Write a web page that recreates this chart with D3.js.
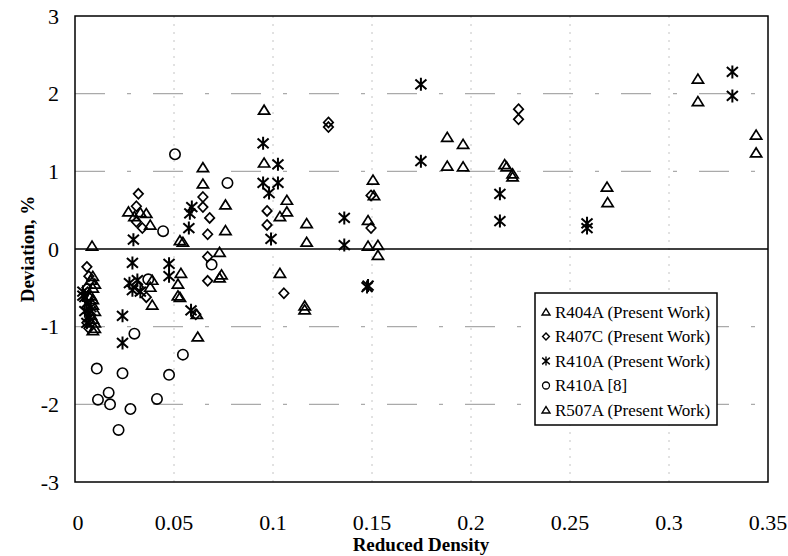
<!DOCTYPE html>
<html>
<head>
<meta charset="utf-8">
<script src="https://cdn.jsdelivr.net/npm/d3@7"></script>
<style>
  body { margin: 0; background: #fff; }
  svg text { font-family: "Liberation Serif", "Times New Roman", serif; fill: #000; }
</style>
</head>
<body>
<svg id="chart" width="788" height="556"></svg>
<script>
// x = reduced density, y = deviation in %
var r404a = [[0.0086,0.04],[0.008,-0.4],[0.009,-0.5],[0.008,-0.6],[0.009,-0.72],[0.008,-0.85],[0.01,-0.95],[0.009,-1.05],
  [0.027,0.48],[0.030,0.42],[0.033,0.47],[0.039,-0.40],[0.038,-0.49],[0.039,-0.72],[0.0545,0.09],[0.0535,-0.31],[0.052,-0.45],[0.052,-0.6],
  [0.0646,1.05],[0.0646,0.84],[0.076,0.57],[0.076,0.24],[0.073,-0.04],[0.073,-0.37],
  [0.0955,1.79],[0.0955,1.11],[0.107,0.63],[0.107,0.48],[0.117,0.33],[0.117,0.09],[0.1035,-0.31],[0.116,-0.73],
  [0.1505,0.89],[0.151,0.69],[0.148,0.37],[0.148,0.04],[0.188,1.44],[0.196,1.35],[0.217,1.09],[0.221,0.97],
  [0.3146,2.19],[0.344,1.47],[0.2687,0.8]];
var r407c = [[0.006,-0.23],[0.007,-0.35],[0.006,-0.5],[0.007,-0.62],[0.006,-0.75],[0.008,-0.85],[0.006,-0.95],[0.007,-1.02],
  [0.032,0.71],[0.031,0.55],[0.031,0.35],[0.034,0.27],[0.032,-0.49],[0.036,-0.62],[0.061,-0.84],
  [0.0646,0.67],[0.0646,0.54],[0.068,0.40],[0.067,0.19],[0.067,-0.1],[0.067,-0.41],[0.097,0.49],[0.097,0.31],
  [0.128,1.63],[0.128,1.57],[0.1055,-0.57],[0.1495,0.69],[0.1495,0.27],[0.224,1.80],[0.224,1.67]];
var r410a = [[0.004,-0.55],[0.005,-0.62],[0.006,-0.7],[0.005,-0.8],[0.007,-0.88],[0.006,-0.95],[0.008,-0.75],[0.004,-0.6],
  [0.0295,0.12],[0.029,-0.18],[0.0275,-0.44],[0.029,-0.53],[0.0315,-0.4],[0.033,-0.55],[0.024,-0.86],[0.024,-1.21],
  [0.0475,-0.19],[0.0475,-0.35],[0.0586,-0.79],[0.059,0.54],[0.058,0.46],[0.0575,0.27],
  [0.095,1.36],[0.1025,1.09],[0.095,0.85],[0.1025,0.85],[0.098,0.72],[0.099,0.13],[0.136,0.40],[0.136,0.05],
  [0.1475,-0.49],[0.148,-0.47],[0.1747,2.12],[0.1747,1.13],[0.2146,0.71],[0.2146,0.36],
  [0.332,2.28],[0.332,1.97],[0.2586,0.33],[0.2586,0.27]];
var r410aRef8 = [[0.011,-1.54],[0.0116,-1.94],[0.017,-1.85],[0.0177,-2.0],[0.022,-2.33],[0.024,-1.6],[0.028,-2.06],[0.030,-1.09],
  [0.037,-0.39],[0.0414,-1.93],[0.0445,0.23],[0.0475,-1.62],[0.0505,1.22],[0.0545,-1.36],[0.069,-0.2],[0.077,0.85]];
var r507a = [[0.009,-0.35],[0.01,-0.45],[0.009,-0.65],[0.01,-0.8],[0.009,-0.9],[0.01,-1.02],
  [0.036,0.46],[0.038,0.31],[0.053,0.11],[0.053,-0.62],[0.0615,-0.84],[0.062,-1.13],[0.074,-0.33],
  [0.1035,0.42],[0.116,-0.78],[0.153,0.05],[0.153,-0.08],[0.188,1.07],[0.196,1.06],[0.218,1.06],[0.221,0.93],
  [0.3146,1.9],[0.344,1.24],[0.269,0.6]];

var xTicks = [0, 0.05, 0.1, 0.15, 0.2, 0.25, 0.3, 0.35];
var yTicks = [-3, -2, -1, 0, 1, 2, 3];
var legendNames = ["R404A (Present Work)", "R407C (Present Work)", "R410A (Present Work)", "R410A [8]", "R507A (Present Work)"];

var svg = d3.select("#chart");
var plotL = 75, plotR = 768, plotT = 16, plotB = 482;

var x = d3.scaleLinear().domain([0, 0.35]).range([plotL, plotR]);
var y = d3.scaleLinear().domain([-3, 3]).range([plotB, plotT]);

// grid lines (faint, broken like the scan)
svg.selectAll(".hgrid").data(yTicks.filter(function(d){ return d != 0 && Math.abs(d) < 3; }))
  .enter().append("line")
  .attr("x1", plotL).attr("x2", plotR)
  .attr("y1", function(d){ return y(d); }).attr("y2", function(d){ return y(d); })
  .attr("stroke", "#aaa").attr("stroke-width", 1.2)
  .attr("stroke-dasharray", "30 22 4 22");
svg.selectAll(".vgrid").data(xTicks.filter(function(d){ return d > 0 && d < 0.35; }))
  .enter().append("line")
  .attr("y1", plotT).attr("y2", plotB)
  .attr("x1", function(d){ return x(d); }).attr("x2", function(d){ return x(d); })
  .attr("stroke", "#c4c4c4").attr("stroke-width", 1)
  .attr("stroke-dasharray", "2 6");

// zero line + frame
svg.append("line").attr("x1", plotL).attr("x2", plotR).attr("y1", y(0)).attr("y2", y(0))
  .attr("stroke", "#000").attr("stroke-width", 1.5);
svg.append("rect").attr("x", plotL).attr("y", plotT).attr("width", plotR - plotL).attr("height", plotB - plotT)
  .attr("fill", "none").attr("stroke", "#000").attr("stroke-width", 1.5);

// tick labels
svg.selectAll(".xl").data(xTicks).enter().append("text")
  .attr("x", function(d){ return x(d) + (d == 0 ? 3 : 0); }).attr("y", 530)
  .attr("text-anchor", "middle").attr("font-size", 22)
  .text(function(d){ return d; });
svg.selectAll(".yl").data(yTicks).enter().append("text")
  .attr("x", 59).attr("y", function(d){ return y(d); })
  .attr("dy", "0.35em").attr("text-anchor", "end").attr("font-size", 22)
  .text(function(d){ return d; });

svg.append("text").attr("x", 421).attr("y", 551).attr("text-anchor", "middle")
  .attr("font-size", 19).attr("font-weight", "bold").text("Reduced Density");
svg.append("text").attr("transform", "translate(34," + y(0) + ") rotate(-90)")
  .attr("text-anchor", "middle").attr("font-size", 19).attr("font-weight", "bold").text("Deviation, %");

// marker shapes
var tri = function(cx, cy, s){ return "M" + (cx - s) + "," + (cy + s*0.75) + "L" + cx + "," + (cy - s*0.85) + "L" + (cx + s) + "," + (cy + s*0.75) + "Z"; };
var dia = function(cx, cy, s){ return "M" + cx + "," + (cy - s) + "L" + (cx + s*0.95) + "," + cy + "L" + cx + "," + (cy + s) + "L" + (cx - s*0.95) + "," + cy + "Z"; };
var ast = function(cx, cy, s){ return "M" + cx + "," + (cy - s) + "L" + cx + "," + (cy + s) +
  "M" + (cx - s*0.85) + "," + (cy - s*0.75) + "L" + (cx + s*0.85) + "," + (cy + s*0.75) +
  "M" + (cx - s*0.85) + "," + (cy + s*0.75) + "L" + (cx + s*0.85) + "," + (cy - s*0.75); };

var drawSeries = function(data, kind){
  var g = svg.append("g");
  if (kind == "circle") {
    g.selectAll("circle").data(data).enter().append("circle")
      .attr("cx", function(d){ return x(d[0]); }).attr("cy", function(d){ return y(d[1]); })
      .attr("r", 5.2).attr("fill", "none").attr("stroke", "#000").attr("stroke-width", 1.6);
    return;
  }
  g.selectAll("path").data(data).enter().append("path")
    .attr("d", function(d){
      var cx = x(d[0]), cy = y(d[1]);
      if (kind == "tri") return tri(cx, cy, 5.6);
      if (kind == "dia") return dia(cx, cy, 5);
      return ast(cx, cy, 6.5);
    })
    .attr("fill", "none").attr("stroke", "#000").attr("stroke-width", kind == "ast" ? 2 : 1.7)
    .attr("stroke-linejoin", "miter");
};

drawSeries(r410aRef8, "circle");
drawSeries(r407c, "dia");
drawSeries(r410a, "ast");
drawSeries(r404a, "tri");
drawSeries(r507a, "tri");

// legend
var lg = svg.append("g");
lg.append("rect").attr("x", 535).attr("y", 293).attr("width", 182).attr("height", 132)
  .attr("fill", "#fff").attr("stroke", "#000").attr("stroke-width", 1.5);
var kinds = ["tri", "dia", "ast", "circle", "tri"];
legendNames.forEach(function(name, i){
  var cy = 312 + i * 24.5;
  if (kinds[i] == "circle") {
    lg.append("circle").attr("cx", 546).attr("cy", cy).attr("r", 3.5)
      .attr("fill", "none").attr("stroke", "#000").attr("stroke-width", 1.3);
  } else {
    var p = kinds[i] == "tri" ? tri(546, cy, 4) : kinds[i] == "dia" ? dia(546, cy, 3.6) : ast(546, cy, 4.5);
    lg.append("path").attr("d", p).attr("fill", "none").attr("stroke", "#000").attr("stroke-width", 1.4);
  }
  lg.append("text").attr("x", 555).attr("y", cy).attr("dy", "0.35em")
    .attr("font-size", 17).text(name);
});
</script>
</body>
</html>
